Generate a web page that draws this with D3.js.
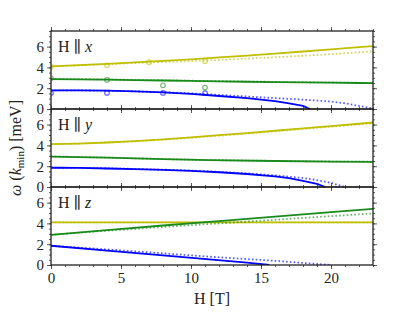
<!DOCTYPE html>
<html>
<head>
<meta charset="utf-8">
<script src="https://cdn.jsdelivr.net/npm/d3@7"></script>
<style>
  body { margin: 0; background: #fff; }
  text { font-family: "Liberation Serif", "DejaVu Serif", serif; fill: #222; }
</style>
</head>
<body>
<div id="chart"></div>
<script>
// field values H [T] and mode energies [meV] for three field directions

// H || x
const xYellowSolid = [[0,4.10],[2,4.22],[4,4.34],[6,4.48],[8,4.63],[10,4.78],[12,4.96],[14,5.14],[16,5.33],[18,5.53],[20,5.74],[22,5.95],[23,6.05]];
const xYellowDot   = [[0,4.10],[2,4.20],[4,4.30],[6,4.42],[8,4.51],[10,4.61],[12,4.72],[14,4.85],[16,4.98],[18,5.12],[20,5.27],[22,5.45],[23,5.55]];
const xGreenSolid  = [[0,2.88],[2,2.85],[4,2.82],[6,2.78],[8,2.74],[10,2.70],[12,2.66],[14,2.62],[16,2.59],[18,2.56],[20,2.53],[22,2.50],[23,2.49]];
const xGreenDot    = [[0,2.90],[2,2.87],[4,2.84],[6,2.80],[8,2.76],[10,2.72],[12,2.68],[14,2.64],[16,2.61],[18,2.58],[20,2.55],[22,2.52],[23,2.51]];
const xBlueSolid   = [[0,1.80],[2,1.79],[4,1.76],[6,1.70],[8,1.60],[10,1.45],[12,1.25],[14,1.05],[16,0.75],[17,0.55],[18,0.30],[18.5,0]];
const xBlueDot     = [[0,1.80],[2,1.79],[4,1.76],[6,1.70],[8,1.62],[10,1.50],[12,1.36],[14,1.20],[16,1.05],[18,0.90],[20,0.72],[21,0.55],[22,0.30],[23,0.05]];
const xYellowPts   = [[0,4.05],[4,4.20],[7,4.50],[11,4.60]];
const xGreenPts    = [[0,2.95],[4,2.80],[8,2.28],[11,2.06]];
const xBluePts     = [[0,1.55],[4,1.55],[8,1.55],[11,1.52]];

// H || y
const yYellowSolid = [[0,4.12],[2,4.18],[4,4.28],[6,4.41],[8,4.57],[10,4.77],[12,4.98],[14,5.19],[16,5.41],[18,5.63],[20,5.86],[22,6.08],[23,6.20]];
const yYellowDot   = [[0,4.12],[2,4.18],[4,4.27],[6,4.39],[8,4.54],[10,4.72],[12,4.92],[14,5.13],[16,5.35],[18,5.57],[20,5.79],[22,6.01],[23,6.12]];
const yGreenSolid  = [[0,2.93],[4,2.82],[8,2.68],[11.3,2.58],[16,2.50],[20,2.44],[23,2.42]];
const yGreenDot    = [[0,2.94],[4,2.83],[8,2.69],[11.3,2.59],[16,2.51],[20,2.45],[23,2.43]];
const yBlueSolid   = [[0,1.85],[2,1.83],[4,1.78],[6,1.72],[8,1.65],[10,1.55],[12,1.42],[14,1.25],[16,1.02],[17,0.85],[18,0.60],[19,0.30],[19.6,0]];
const yBlueDot     = [[0,1.86],[2,1.84],[4,1.80],[6,1.74],[8,1.67],[10,1.58],[12,1.46],[14,1.31],[16,1.12],[18,0.86],[19,0.66],[20,0.40],[21,0]];

// H || z
const zYellowSolid = [[0,4.10],[23,4.10]];
const zYellowDot   = [[0,4.10],[23,4.10]];
const zGreenSolid  = [[0,2.90],[4,3.35],[8,3.80],[12,4.22],[16,4.65],[20,5.08],[23,5.40]];
const zGreenDot    = [[0,2.90],[4,3.30],[8,3.65],[12,4.00],[16,4.35],[20,4.70],[23,4.95]];
const zBlueSolid   = [[0,1.85],[4,1.38],[8,0.92],[11.3,0.55],[14,0.22],[15.6,0]];
const zBlueDot     = [[0,1.85],[4,1.50],[8,1.12],[11.3,0.80],[16,0.40],[20,0]];

const xTicks = [0, 5, 10, 15, 20];
const yTicks = [0, 2, 4, 6];

const colors = { yellow: '#bfbf00', green: '#1a8a1a', blue: '#0000ff' };

const panels = [
  { name: 'x', lines: [
      [xYellowSolid, 'yellow', false], [xYellowDot, 'yellow', true],
      [xGreenSolid, 'green', false], [xGreenDot, 'green', true],
      [xBlueSolid, 'blue', false], [xBlueDot, 'blue', true]],
    points: [[xYellowPts, 'yellow'], [xGreenPts, 'green'], [xBluePts, 'blue']] },
  { name: 'y', lines: [
      [yYellowSolid, 'yellow', false], [yYellowDot, 'yellow', true],
      [yGreenSolid, 'green', false], [yGreenDot, 'green', true],
      [yBlueSolid, 'blue', false], [yBlueDot, 'blue', true]],
    points: [] },
  { name: 'z', lines: [
      [zYellowSolid, 'yellow', false], [zYellowDot, 'yellow', true],
      [zGreenSolid, 'green', false], [zGreenDot, 'green', true],
      [zBlueSolid, 'blue', false], [zBlueDot, 'blue', true]],
    points: [] }
];

const W = 415, H = 312;
const plotLeft = 51, plotRight = 373, plotTop = 31, panelH = 78;

const svg = d3.select('#chart').append('svg')
  .attr('width', W)
  .attr('height', H);

const x = d3.scaleLinear().domain([0, 23]).range([plotLeft, plotRight]);

svg.append('clipPath').attr('id', 'plotclip')
  .append('rect')
  .attr('x', plotLeft).attr('y', plotTop)
  .attr('width', plotRight - plotLeft).attr('height', panelH * 3);

panels.forEach((p, i) => {
  const y0 = plotTop + i * panelH;
  const y = d3.scaleLinear().domain([0, 7.5]).range([y0 + panelH, y0]);
  const g = svg.append('g');

  const line = d3.line().x(d => x(d[0])).y(d => y(d[1]));
  const plot = g.append('g').attr('clip-path', 'url(#plotclip)');

  p.lines.forEach(([data, c, dotted]) => {
    plot.append('path')
      .datum(data)
      .attr('d', line)
      .attr('fill', 'none')
      .attr('stroke', colors[c])
      .attr('stroke-width', 1.8)
      .attr('stroke-opacity', dotted ? 0.65 : 1)
      .attr('stroke-dasharray', dotted ? '1.6,2.2' : null);
  });

  p.points.forEach(([data, c]) => {
    plot.selectAll(null)
      .data(data)
      .enter().append('circle')
      .attr('cx', d => x(d[0]))
      .attr('cy', d => y(d[1]))
      .attr('r', 2.3)
      .attr('fill', 'none')
      .attr('stroke', colors[c])
      .attr('stroke-opacity', 0.6)
      .attr('stroke-width', 1.2);
  });

  // ticks, outward on all four sides
  const minorY = d3.range(0, 7.51, 0.5);
  const minorX = d3.range(0, 23.01, 1);
  const axes = [
    [d3.axisLeft(y).tickValues(minorY).tickSize(2).tickFormat(''), plotLeft, 0],
    [d3.axisRight(y).tickValues(minorY).tickSize(2).tickFormat(''), plotRight, 0],
    [d3.axisRight(y).tickValues(yTicks).tickSize(4).tickFormat(''), plotRight, 0],
    [d3.axisTop(x).tickValues(minorX).tickSize(2).tickFormat(''), 0, y0],
    [d3.axisTop(x).tickValues(xTicks).tickSize(4).tickFormat(''), 0, y0],
    [d3.axisBottom(x).tickValues(minorX).tickSize(2).tickFormat(''), 0, y0 + panelH],
    [d3.axisBottom(x).tickValues(xTicks).tickSize(4).tickFormat(i === 2 ? d3.format('d') : ''), 0, y0 + panelH],
    [d3.axisLeft(y).tickValues(yTicks).tickSize(4).tickFormat(d3.format('d')), plotLeft, 0]
  ];
  axes.forEach(([ax, tx, ty]) => {
    const a = g.append('g')
      .attr('transform', `translate(${tx},${ty})`)
      .call(ax.tickSizeOuter(0));
    a.select('.domain').remove();
    a.selectAll('line').attr('stroke', '#333').attr('stroke-width', 0.8);
    a.selectAll('text')
      .attr('font-family', '"Liberation Serif", serif')
      .attr('font-size', 15)
      .attr('fill', '#222');
  });

  g.append('rect')
    .attr('x', plotLeft).attr('y', y0)
    .attr('width', plotRight - plotLeft).attr('height', panelH)
    .attr('fill', 'none')
    .attr('stroke', '#222')
    .attr('stroke-width', 1.3);

  const lbl = g.append('text')
    .attr('x', plotLeft + 7)
    .attr('y', y0 + 21)
    .attr('font-size', 16);
  lbl.append('tspan').text('H \u2225 ');
  lbl.append('tspan').attr('font-style', 'italic').text(p.name);
});

svg.append('text')
  .attr('x', (plotLeft + plotRight) / 2)
  .attr('y', 304)
  .attr('text-anchor', 'middle')
  .attr('font-size', 16)
  .text('H [T]');

const yl = svg.append('text')
  .attr('transform', `translate(21,${plotTop + panelH * 1.5}) rotate(-90)`)
  .attr('text-anchor', 'middle')
  .attr('font-size', 16);
yl.append('tspan').attr('font-style', 'italic').text('\u03c9');
yl.append('tspan').text(' (');
yl.append('tspan').attr('font-style', 'italic').text('k');
yl.append('tspan').attr('font-size', 11).attr('dy', 3).text('min');
yl.append('tspan').attr('dy', -3).text(') [meV]');
</script>
</body>
</html>
